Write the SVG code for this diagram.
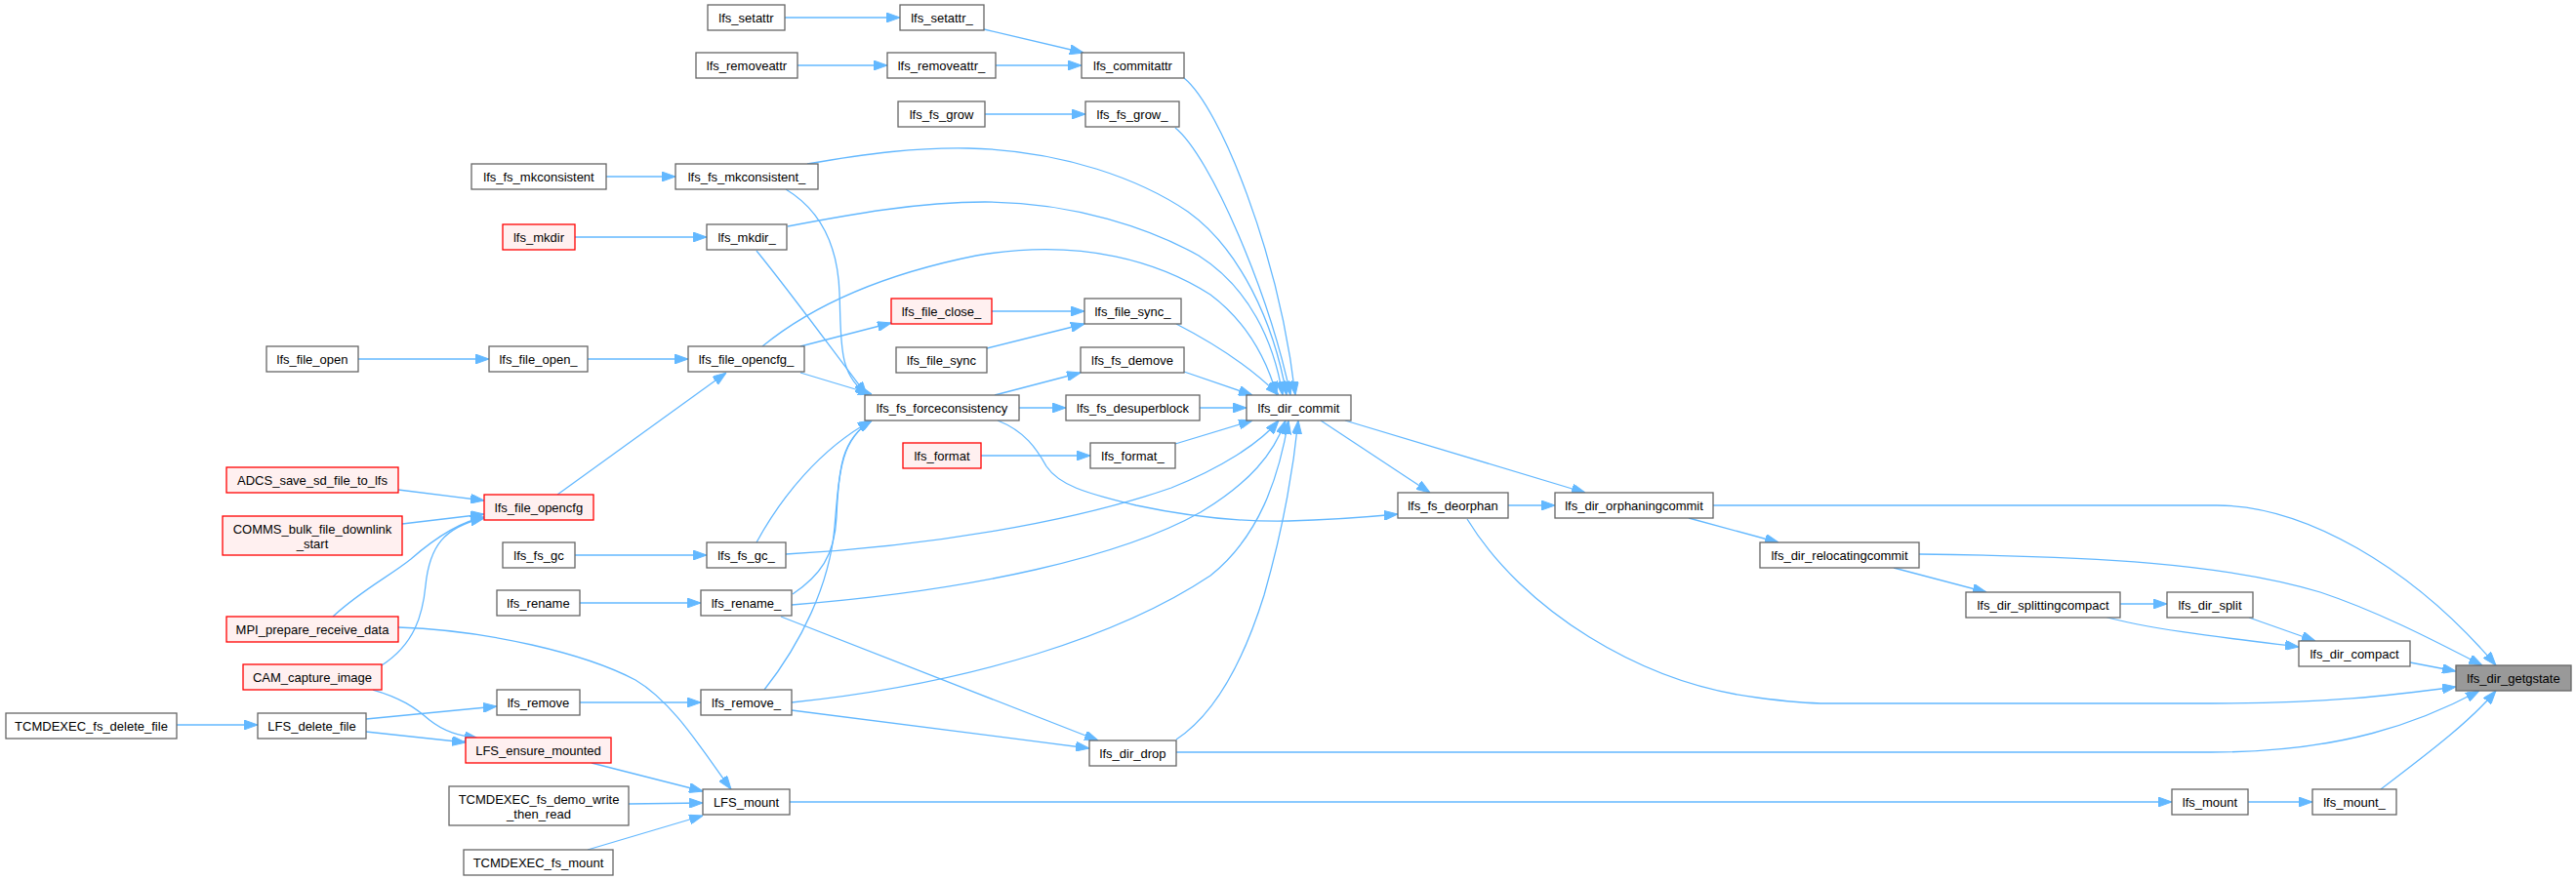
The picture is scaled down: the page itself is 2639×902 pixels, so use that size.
<svg xmlns="http://www.w3.org/2000/svg" width="2639" height="902" viewBox="0 0 2639 902">
<style>
.n rect{fill:#ffffff;stroke:#666666;stroke-width:1.3}
.r rect{fill:#fff0f0;stroke:#ff0000;stroke-width:1.3}
.g rect{fill:#999999;stroke:#666666;stroke-width:1.3}
text{font-family:"Liberation Sans",Arial,Helvetica,sans-serif;font-size:13px;fill:#000000;text-anchor:middle}
#edges path{fill:none;stroke:#63b8ff;stroke-width:1.3;marker-end:url(#ah)}
</style>
<defs>
<marker id="ah" viewBox="0 0 14 10" refX="14" refY="5" markerWidth="14" markerHeight="10" markerUnits="userSpaceOnUse" orient="auto">
<path d="M0,0 L14,5 L0,10 z" fill="#63b8ff" stroke="#63b8ff" stroke-width="1"/>
</marker>
</defs>
<rect width="2639" height="902" fill="#ffffff"/>
<g id="edges">
<path d="M804,18 H922"/>
<path d="M817,67 H909"/>
<path d="M1008,30 L1110,54"/>
<path d="M1020,67 H1108"/>
<path d="M1213,80 C1250,110 1310,260 1327,405"/>
<path d="M1009,117 H1112"/>
<path d="M1204,131 C1240,160 1300,300 1322,405"/>
<path d="M621,181 H692"/>
<path d="M827,168 C890,157 940,151 992,152 C1090,154 1170,185 1217,217 C1270,255 1305,330 1318,405"/>
<path d="M805,194 C835,212 858,245 860,300 C862,350 858,385 890,405"/>
<path d="M589,243 H724"/>
<path d="M807,232 C870,220 940,207 1009,207 C1100,207 1180,235 1228,262 C1280,295 1305,350 1314,405"/>
<path d="M775,257 C810,300 850,355 888,405"/>
<path d="M367,368 H501"/>
<path d="M602,368 H705"/>
<path d="M781,355 C830,315 900,282 1000,262 C1110,243 1190,270 1240,302 C1280,332 1298,370 1308,405"/>
<path d="M820,355 L913,331"/>
<path d="M820,382 L893,404"/>
<path d="M1016,319 H1111"/>
<path d="M1011,357 L1111,332"/>
<path d="M1205,332 C1240,350 1280,375 1310,405"/>
<path d="M1019,405 L1107,382"/>
<path d="M1044,418 H1092"/>
<path d="M1022,431 C1050,442 1062,460 1072,478 C1085,497 1110,505 1164,518 C1220,530 1270,535 1320,534 C1360,533 1400,530 1432,527"/>
<path d="M1213,381 L1283,405"/>
<path d="M1229,418 H1277"/>
<path d="M1005,467 H1117"/>
<path d="M1204,455 L1283,431"/>
<path d="M1353,431 L1465,505"/>
<path d="M1378,431 L1624,505"/>
<path d="M1545,518 H1593"/>
<path d="M1503,532 C1560,625 1680,700 1800,715 C1830,719 1850,721 1872,721 L2265,721 C2380,721 2450,713 2516,704"/>
<path d="M1755,518 L2271,518 C2360,518 2470,580 2557,682"/>
<path d="M1730,531 L1822,556"/>
<path d="M1966,568 C2150,570 2280,578 2377,607 C2440,628 2500,660 2543,682"/>
<path d="M1940,582 L2035,607"/>
<path d="M2172,619 H2220"/>
<path d="M2156,632 C2200,645 2290,655 2355,663"/>
<path d="M2304,633 L2372,657"/>
<path d="M2469,679 L2516,688"/>
<path d="M1205,771 L2265,771 C2400,771 2480,740 2540,708"/>
<path d="M2303,822 H2369"/>
<path d="M2439,809 C2490,770 2530,740 2557,708"/>
<path d="M809,822 H2225"/>
<path d="M408,502 L496,513"/>
<path d="M412,537 L496,527"/>
<path d="M341,632 C370,605 400,590 421,573 C445,552 470,535 496,530"/>
<path d="M391,682 C425,660 433,630 436,600 C440,560 455,540 496,531"/>
<path d="M571,507 L744,382"/>
<path d="M408,643 C500,646 600,670 651,697 C690,720 720,770 749,809"/>
<path d="M382,707 C410,715 425,725 440,738 C455,750 470,754 490,757"/>
<path d="M181,743 H264"/>
<path d="M375,737 L509,724"/>
<path d="M375,750 L477,761"/>
<path d="M606,782 L720,811"/>
<path d="M644,824 L720,823"/>
<path d="M602,871 L720,836"/>
<path d="M589,569 H724"/>
<path d="M805,568 C950,560 1100,535 1200,500 C1250,480 1290,455 1310,431"/>
<path d="M775,556 C800,510 840,460 893,431"/>
<path d="M594,618 H718"/>
<path d="M811,620 C1000,605 1150,570 1230,525 C1280,495 1305,465 1317,431"/>
<path d="M812,609 C840,590 855,570 857,530 C859,480 862,450 893,431"/>
<path d="M800,632 L1125,759"/>
<path d="M594,720 H718"/>
<path d="M811,720 C1000,700 1150,650 1240,590 C1290,550 1310,490 1320,431"/>
<path d="M783,707 C820,660 850,600 855,540 C860,480 862,450 893,431"/>
<path d="M811,728 L1116,767"/>
<path d="M1205,758 C1240,735 1270,690 1295,610 C1315,540 1325,480 1330,431"/>
</g>
<g id="n_lfs_setattr" class="n"><rect x="725" y="5" width="79" height="26"/><text x="764.5" y="22.5">lfs_setattr</text></g>
<g id="n_lfs_setattr_" class="n"><rect x="922" y="5" width="86" height="26"/><text x="965" y="22.5">lfs_setattr_</text></g>
<g id="n_lfs_removeattr" class="n"><rect x="713" y="54" width="104" height="26"/><text x="765" y="71.5">lfs_removeattr</text></g>
<g id="n_lfs_removeattr_" class="n"><rect x="909" y="54" width="111" height="26"/><text x="964.5" y="71.5">lfs_removeattr_</text></g>
<g id="n_lfs_commitattr" class="n"><rect x="1108" y="54" width="105" height="26"/><text x="1160.5" y="71.5">lfs_commitattr</text></g>
<g id="n_lfs_fs_grow" class="n"><rect x="920" y="104" width="89" height="26"/><text x="964.5" y="121.5">lfs_fs_grow</text></g>
<g id="n_lfs_fs_grow_" class="n"><rect x="1112" y="104" width="96" height="26"/><text x="1160" y="121.5">lfs_fs_grow_</text></g>
<g id="n_lfs_fs_mkconsistent" class="n"><rect x="483" y="168" width="138" height="26"/><text x="552" y="185.5">lfs_fs_mkconsistent</text></g>
<g id="n_lfs_fs_mkconsistent_" class="n"><rect x="692" y="168" width="146" height="26"/><text x="765" y="185.5">lfs_fs_mkconsistent_</text></g>
<g id="n_lfs_mkdir" class="r"><rect x="515" y="230" width="74" height="26"/><text x="552" y="247.5">lfs_mkdir</text></g>
<g id="n_lfs_mkdir_" class="n"><rect x="724" y="230" width="82" height="26"/><text x="765" y="247.5">lfs_mkdir_</text></g>
<g id="n_lfs_file_close_" class="r"><rect x="913" y="306" width="103" height="26"/><text x="964.5" y="323.5">lfs_file_close_</text></g>
<g id="n_lfs_file_sync_" class="n"><rect x="1111" y="306" width="99" height="26"/><text x="1160.5" y="323.5">lfs_file_sync_</text></g>
<g id="n_lfs_file_open" class="n"><rect x="273" y="355" width="94" height="26"/><text x="320" y="372.5">lfs_file_open</text></g>
<g id="n_lfs_file_open_" class="n"><rect x="501" y="355" width="101" height="26"/><text x="551.5" y="372.5">lfs_file_open_</text></g>
<g id="n_lfs_file_opencfg_" class="n"><rect x="705" y="355" width="119" height="26"/><text x="764.5" y="372.5">lfs_file_opencfg_</text></g>
<g id="n_lfs_file_sync" class="n"><rect x="918" y="356" width="93" height="26"/><text x="964.5" y="373.5">lfs_file_sync</text></g>
<g id="n_lfs_fs_demove" class="n"><rect x="1107" y="356" width="106" height="26"/><text x="1160" y="373.5">lfs_fs_demove</text></g>
<g id="n_lfs_fs_forceconsistency" class="n"><rect x="886" y="405" width="158" height="26"/><text x="965" y="422.5">lfs_fs_forceconsistency</text></g>
<g id="n_lfs_fs_desuperblock" class="n"><rect x="1092" y="405" width="137" height="26"/><text x="1160.5" y="422.5">lfs_fs_desuperblock</text></g>
<g id="n_lfs_dir_commit" class="n"><rect x="1277" y="405" width="107" height="26"/><text x="1330.5" y="422.5">lfs_dir_commit</text></g>
<g id="n_lfs_format" class="r"><rect x="925" y="454" width="80" height="26"/><text x="965" y="471.5">lfs_format</text></g>
<g id="n_lfs_format_" class="n"><rect x="1117" y="454" width="87" height="26"/><text x="1160.5" y="471.5">lfs_format_</text></g>
<g id="n_ADCS_save_sd_file_to_lfs" class="r"><rect x="232" y="479" width="176" height="26"/><text x="320" y="496.5">ADCS_save_sd_file_to_lfs</text></g>
<g id="n_lfs_file_opencfg" class="r"><rect x="496" y="507" width="112" height="26"/><text x="552" y="524.5">lfs_file_opencfg</text></g>
<g id="n_lfs_fs_deorphan" class="n"><rect x="1432" y="505" width="113" height="26"/><text x="1488.5" y="522.5">lfs_fs_deorphan</text></g>
<g id="n_lfs_dir_orphaningcommit" class="n"><rect x="1593" y="505" width="162" height="26"/><text x="1674" y="522.5">lfs_dir_orphaningcommit</text></g>
<g id="n_COMMS_bulk_file_downlink_start" class="r"><rect x="228" y="529" width="184" height="40"/><text x="320" y="546.5">COMMS_bulk_file_downlink</text><text x="320" y="561.5">_start</text></g>
<g id="n_lfs_fs_gc" class="n"><rect x="515" y="556" width="74" height="26"/><text x="552" y="573.5">lfs_fs_gc</text></g>
<g id="n_lfs_fs_gc_" class="n"><rect x="724" y="556" width="81" height="26"/><text x="764.5" y="573.5">lfs_fs_gc_</text></g>
<g id="n_lfs_dir_relocatingcommit" class="n"><rect x="1803" y="556" width="163" height="26"/><text x="1884.5" y="573.5">lfs_dir_relocatingcommit</text></g>
<g id="n_lfs_rename" class="n"><rect x="509" y="605" width="85" height="26"/><text x="551.5" y="622.5">lfs_rename</text></g>
<g id="n_lfs_rename_" class="n"><rect x="718" y="605" width="93" height="26"/><text x="764.5" y="622.5">lfs_rename_</text></g>
<g id="n_lfs_dir_splittingcompact" class="n"><rect x="2014" y="607" width="158" height="26"/><text x="2093" y="624.5">lfs_dir_splittingcompact</text></g>
<g id="n_lfs_dir_split" class="n"><rect x="2220" y="607" width="88" height="26"/><text x="2264" y="624.5">lfs_dir_split</text></g>
<g id="n_MPI_prepare_receive_data" class="r"><rect x="232" y="632" width="176" height="26"/><text x="320" y="649.5">MPI_prepare_receive_data</text></g>
<g id="n_lfs_dir_compact" class="n"><rect x="2355" y="657" width="114" height="26"/><text x="2412" y="674.5">lfs_dir_compact</text></g>
<g id="n_CAM_capture_image" class="r"><rect x="249" y="681" width="142" height="26"/><text x="320" y="698.5">CAM_capture_image</text></g>
<g id="n_lfs_dir_getgstate" class="g"><rect x="2516" y="682" width="118" height="26"/><text x="2575" y="699.5">lfs_dir_getgstate</text></g>
<g id="n_lfs_remove" class="n"><rect x="509" y="707" width="85" height="26"/><text x="551.5" y="724.5">lfs_remove</text></g>
<g id="n_lfs_remove_" class="n"><rect x="718" y="707" width="93" height="26"/><text x="764.5" y="724.5">lfs_remove_</text></g>
<g id="n_TCMDEXEC_fs_delete_file" class="n"><rect x="6" y="731" width="175" height="26"/><text x="93.5" y="748.5">TCMDEXEC_fs_delete_file</text></g>
<g id="n_LFS_delete_file" class="n"><rect x="264" y="731" width="111" height="26"/><text x="319.5" y="748.5">LFS_delete_file</text></g>
<g id="n_LFS_ensure_mounted" class="r"><rect x="477" y="756" width="149" height="26"/><text x="551.5" y="773.5">LFS_ensure_mounted</text></g>
<g id="n_lfs_dir_drop" class="n"><rect x="1116" y="759" width="89" height="26"/><text x="1160.5" y="776.5">lfs_dir_drop</text></g>
<g id="n_TCMDEXEC_fs_demo_write_then_read" class="n"><rect x="460" y="806" width="184" height="40"/><text x="552" y="823.5">TCMDEXEC_fs_demo_write</text><text x="552" y="838.5">_then_read</text></g>
<g id="n_LFS_mount" class="n"><rect x="720" y="809" width="89" height="26"/><text x="764.5" y="826.5">LFS_mount</text></g>
<g id="n_lfs_mount" class="n"><rect x="2225" y="809" width="78" height="26"/><text x="2264" y="826.5">lfs_mount</text></g>
<g id="n_lfs_mount_" class="n"><rect x="2369" y="809" width="86" height="26"/><text x="2412" y="826.5">lfs_mount_</text></g>
<g id="n_TCMDEXEC_fs_mount" class="n"><rect x="475" y="871" width="153" height="26"/><text x="551.5" y="888.5">TCMDEXEC_fs_mount</text></g>
</svg>
